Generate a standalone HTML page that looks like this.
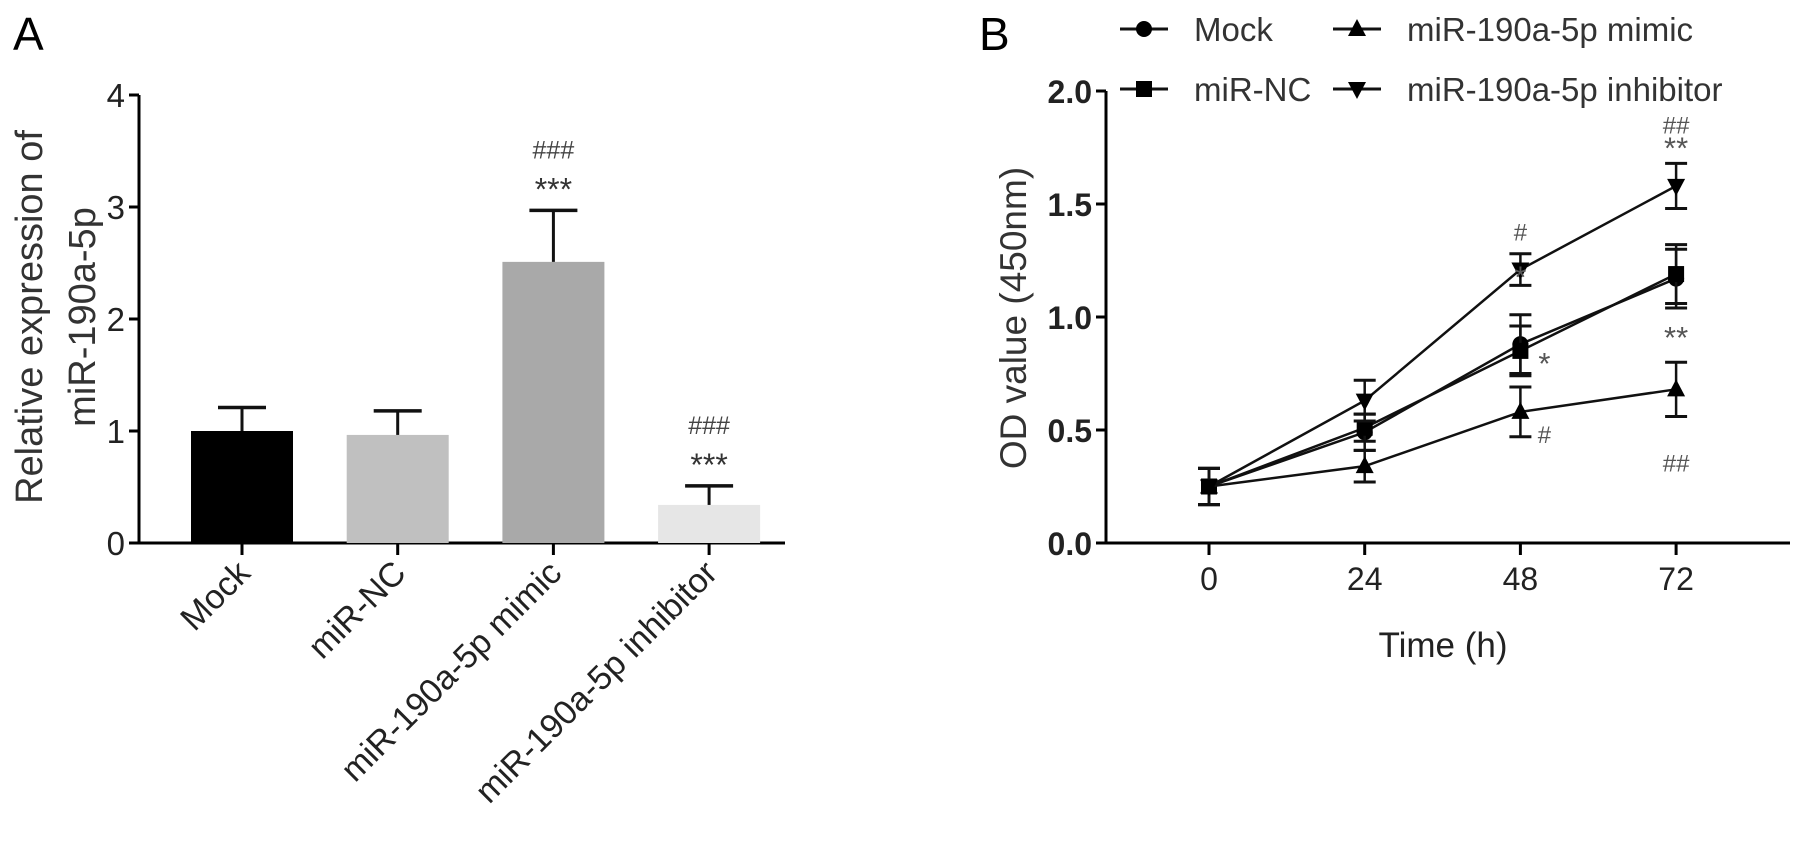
<!DOCTYPE html>
<html><head><meta charset="utf-8"><style>
html,body{margin:0;padding:0;background:#fff;}
svg{display:block;font-family:"Liberation Sans",sans-serif;}
</style></head><body>
<svg id="fig" width="1795" height="842" viewBox="0 0 1795 842"></svg>
<script>
// Panel A data
const catsA = ["Mock","miR-NC","miR-190a-5p mimic","miR-190a-5p inhibitor"];
const valsA = [1.0, 0.965, 2.51, 0.34];
const errsA = [0.21, 0.215, 0.46, 0.17];
const colorsA = ["#000000","#c0c0c0","#a9a9a9","#e6e6e6"];
const ticksA = [0,1,2,3,4];
const annoA = [["",""],["",""],["***","###"],["***","###"]];
// Panel B data
const timesB = [0,24,48,72];
const ticksB = ["0.0","0.5","1.0","1.5","2.0"];
const seriesNames = ["Mock","miR-NC","miR-190a-5p mimic","miR-190a-5p inhibitor"];
const mockVals = [0.25,0.49,0.88,1.17];
const mockErr = [0.08,0.08,0.13,0.13];
const ncVals = [0.25,0.51,0.85,1.19];
const ncErr = [0.08,0.06,0.11,0.13];
const mimicVals = [0.25,0.34,0.58,0.68];
const mimicErr = [0.08,0.07,0.11,0.12];
const inhVals = [0.25,0.63,1.21,1.58];
const inhErr = [0.08,0.09,0.07,0.10];

const NS="http://www.w3.org/2000/svg";
const svg=document.getElementById('fig');
function mk(tag,attrs,parent,text){const e=document.createElementNS(NS,tag);for(const k in attrs)e.setAttribute(k,attrs[k]);if(text!==undefined)e.textContent=text;(parent||svg).appendChild(e);return e;}

// ---------- Panel A ----------
const gA=mk('g',{});


const ax0=139, ay0=543, aUnit=112, aXend=785;
const yA=v=>ay0-v*aUnit;
const xA=i=>242+i*155.7;
let t=mk('text',{x:13,y:50,'font-size':46},gA,'A');

mk('line',{x1:ax0,y1:yA(4),x2:ax0,y2:ay0,stroke:'#000','stroke-width':3},gA);
mk('line',{x1:ax0-10,y1:ay0,x2:aXend,y2:ay0,stroke:'#000','stroke-width':3},gA);
ticksA.forEach(v=>{
  mk('line',{x1:ax0-10,y1:yA(v),x2:ax0,y2:yA(v),stroke:'#000','stroke-width':3},gA);
  const tl=mk('text',{x:ax0-14,y:yA(v)+12,'font-size':33,'text-anchor':'end',fill:'#222'},gA,String(v));
  
  
});
const ytA=mk('text',{transform:'translate(42,317) rotate(-90)','font-size':38,'text-anchor':'middle',fill:'#333'},gA);

mk('tspan',{x:0,y:0},ytA,'Relative expression of');
mk('tspan',{x:0,y:53},ytA,'miR-190a-5p');
catsA.forEach((c,i)=>{
  const cx=xA(i), w=102;
  const b=mk('rect',{x:cx-w/2,y:yA(valsA[i]),width:w,height:ay0-yA(valsA[i]),fill:colorsA[i]},gA);
  
  
  const et=yA(valsA[i]+errsA[i]);
  mk('line',{x1:cx,y1:yA(valsA[i]),x2:cx,y2:et,stroke:'#111','stroke-width':3},gA);
  mk('line',{x1:cx-24,y1:et,x2:cx+24,y2:et,stroke:'#111','stroke-width':3.5},gA);
  mk('line',{x1:cx,y1:ay0,x2:cx,y2:ay0+12,stroke:'#000','stroke-width':3},gA);
  const lb=mk('text',{transform:`translate(${cx+10},${ay0+32}) rotate(-45)`,'font-size':34,'text-anchor':'end',fill:'#222'},gA,c);
  
  
  if(annoA[i][0]){
    const s=mk('text',{x:cx,y:et-10,'font-size':32,'text-anchor':'middle',fill:'#333'},gA,annoA[i][0]);
    
    const h=mk('text',{x:cx,y:et-52,'font-size':25,'text-anchor':'middle',fill:'#444'},gA,annoA[i][1]);
    
  }
});

// ---------- Panel B ----------
const gB=mk('g',{});


const bx0=1106, by0=543, bUnit=226, bXend=1790;
const yB=v=>by0-v*bUnit;
const xB=h=>1209+h*(155.7/24);
t=mk('text',{x:979,y:50,'font-size':46},gB,'B');

mk('line',{x1:bx0,y1:yB(2),x2:bx0,y2:by0,stroke:'#000','stroke-width':3},gB);
mk('line',{x1:bx0-10,y1:by0,x2:bXend,y2:by0,stroke:'#000','stroke-width':3},gB);
ticksB.forEach(s=>{
  const v=parseFloat(s);
  mk('line',{x1:bx0-10,y1:yB(v),x2:bx0,y2:yB(v),stroke:'#000','stroke-width':3},gB);
  const tl=mk('text',{x:bx0-14,y:yB(v)+12,'font-size':32,'text-anchor':'end',fill:'#222','font-weight':'bold'},gB,s);
  
  
});
timesB.forEach(h=>{
  mk('line',{x1:xB(h),y1:by0,x2:xB(h),y2:by0+12,stroke:'#000','stroke-width':3},gB);
  const tl=mk('text',{x:xB(h),y:590,'font-size':32,'text-anchor':'middle',fill:'#222'},gB,String(h));
  
  
});
t=mk('text',{x:1443,y:657,'font-size':35,'text-anchor':'middle',fill:'#222'},gB,'Time (h)');

t=mk('text',{transform:'translate(1026,318) rotate(-90)','font-size':37,'text-anchor':'middle',fill:'#333'},gB,'OD value (450nm)');


function marker(kind,x,y,parent){
  if(kind==='circle') return mk('circle',{cx:x,cy:y,r:8,fill:'#000'},parent);
  if(kind==='square') return mk('rect',{x:x-8,y:y-8,width:16,height:16,fill:'#000'},parent);
  if(kind==='tri') return mk('polygon',{points:`${x},${y-10} ${x-9},${y+7} ${x+9},${y+7}`,fill:'#000'},parent);
  return mk('polygon',{points:`${x},${y+10} ${x-9},${y-7} ${x+9},${y-7}`,fill:'#000'},parent);
}
const seriesB=[[mockVals,mockErr,'circle'],[ncVals,ncErr,'square'],[mimicVals,mimicErr,'tri'],[inhVals,inhErr,'down']];
seriesB.forEach((s,si)=>{
  const g=mk('g',{},gB);
  
  
  const pts=s[0].map((v,i)=>xB(timesB[i])+','+yB(v)).join(' ');
  mk('polyline',{points:pts,fill:'none',stroke:'#111','stroke-width':2.5},g);
  s[0].forEach((v,i)=>{
    const x=xB(timesB[i]);
    const top=yB(v+s[1][i]), bot=yB(v-s[1][i]);
    mk('line',{x1:x,y1:top,x2:x,y2:bot,stroke:'#111','stroke-width':2.5},g);
    mk('line',{x1:x-11,y1:top,x2:x+11,y2:top,stroke:'#111','stroke-width':3},g);
    mk('line',{x1:x-11,y1:bot,x2:x+11,y2:bot,stroke:'#111','stroke-width':3},g);
    const m=marker(s[2],x,yB(v),g);
    
    
  });
});
// annotations
function ann(txt,x,y,size){const e=mk('text',{x:x,y:y,'font-size':size,'text-anchor':'middle',fill:'#555'},gB,txt);}
ann('*',xB(48),yB(inhVals[2]+inhErr[2])+34,31);
ann('#',xB(48),yB(inhVals[2]+inhErr[2])-13,24);
ann('**',xB(72),yB(inhVals[3]+inhErr[3])-5,31);
ann('##',xB(72),yB(inhVals[3]+inhErr[3])-30,24);
ann('*',xB(48)+24,yB(mimicVals[2])-38,31);
ann('#',xB(48)+24,yB(mimicVals[2])+31,24);
ann('**',xB(72),yB(mimicVals[3]+mimicErr[3])-14,31);
ann('##',xB(72),yB(mimicVals[3]-mimicErr[3])+55,24);

// legend
const lg=mk('g',{},gB);


const legPos=[[1120,29],[1120,89],[1333,29],[1333,89]];
const legKinds=['circle','square','tri','down'];
seriesNames.forEach((n,i)=>{
  const [lx,ly]=legPos[i];
  const e=mk('g',{},lg);
  
  
  mk('line',{x1:lx,y1:ly,x2:lx+48,y2:ly,stroke:'#111','stroke-width':3},e);
  marker(legKinds[i],lx+24,ly,e);
  mk('text',{x:lx+74,y:ly+12,'font-size':33,fill:'#333'},e,n);
});
</script>
</body></html>
